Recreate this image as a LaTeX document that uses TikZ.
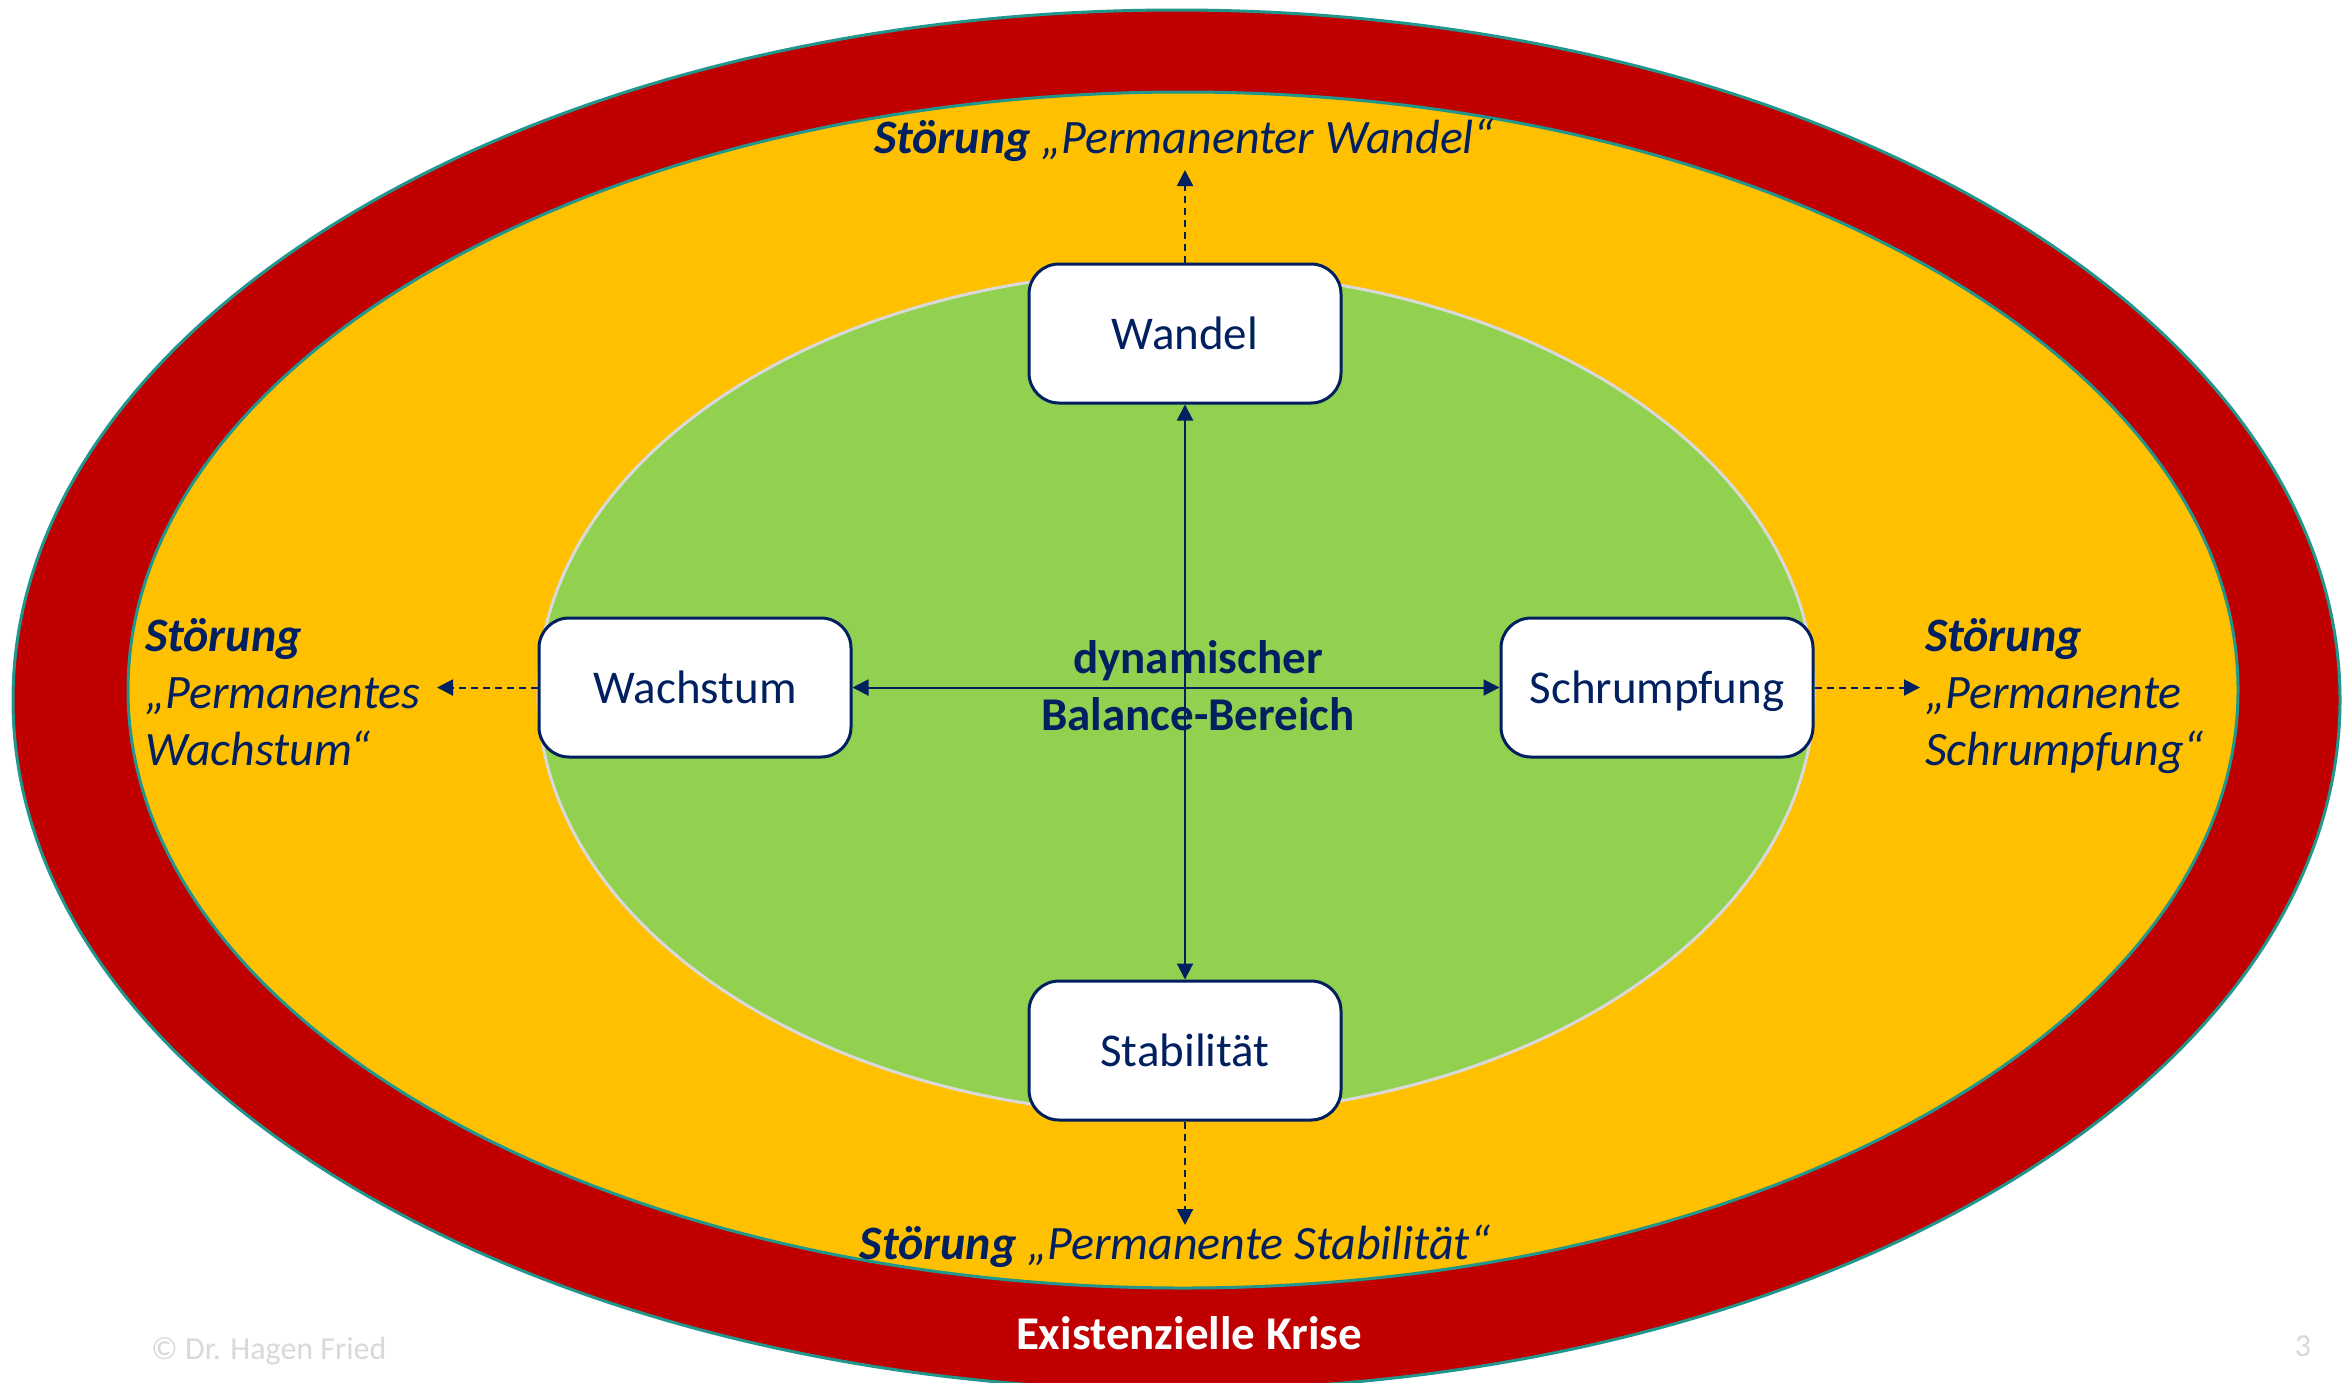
\documentclass[tikz,border=0pt]{standalone}
\usepackage{fontspec}
\setmainfont{Carlito}
\usetikzlibrary{arrows.meta}
\definecolor{navy}{HTML}{002060}
\definecolor{kred}{HTML}{C00000}
\definecolor{korange}{HTML}{FFC000}
\definecolor{kgreen}{HTML}{92D050}
\definecolor{kteal}{RGB}{32,150,140}
\definecolor{kgray}{HTML}{D9D9D9}
\begin{document}
\begin{tikzpicture}[x=1pt,y=-1pt,
  boxnode/.style={draw=navy, line width=3pt, fill=white, rounded corners=30pt,
    minimum width=312pt, minimum height=139pt, text=navy,
    text height=31pt, text depth=0pt,
    font=\fontsize{47}{57}\selectfont, inner sep=0pt},
  lbl/.style={text=navy, font=\fontsize{48}{57}\selectfont\itshape, inner sep=0pt},
  biarrow/.style={draw=navy, line width=2pt,
    {Triangle[length=16pt,width=16pt]}-{Triangle[length=16pt,width=16pt]}},
  dasharrow/.style={draw=navy, line width=2pt, dash pattern=on 7pt off 5pt,
    -{Triangle[length=16pt,width=16pt]}}]
\useasboundingbox (0,0) rectangle (2349,1382);
\clip (0,0) rectangle (2349,1382);
\fill[white] (0,0) rectangle (2349,1382);
% rings
\draw[fill=kred, draw=kteal, line width=3pt] (1176.5,700) ellipse [x radius=1163.5pt, y radius=690pt];
\draw[fill=korange, draw=kteal, line width=3pt] (1183,690) ellipse [x radius=1055pt, y radius=598pt];
\draw[fill=kgreen, draw=kgray, line width=3pt] (1176,693) ellipse [x radius=638pt, y radius=422pt];
% boxes
\node[boxnode] (wandel) at (1185,333.5) {Wandel};
\node[boxnode] (stab) at (1185,1050.5) {Stabilität};
\node[boxnode] (wachs) at (695,687.5) {Wachstum};
\node[boxnode] (schr) at (1657,687.5) {Schrumpfung};
% arrows
\draw[biarrow] (wachs.east) -- (schr.west);
\draw[biarrow] (wandel.south) -- (stab.north);
\coordinate (tw) at (1185,170);
\coordinate (ts) at (1185,1225);
\coordinate (twa) at (437,687.5);
\coordinate (tsc) at (1920,687.5);
\draw[dasharrow] (wandel.north) -- (tw);
\draw[dasharrow] (stab.south) -- (ts);
\draw[dasharrow] (wachs.west) -- (twa);
\draw[dasharrow] (schr.east) -- (tsc);
% center text
\node[text=navy, font=\fontsize{47}{57}\selectfont\bfseries, align=center, inner sep=0pt] (mid) at (1198,686) {dynamischer\\Balance-Bereich};
% disturbance labels
\node[lbl] (ltop) at (1184,140.5) {\textbf{Störung} „Permanenter Wandel“};
\node[lbl] (lbot) at (1175,1246) {\textbf{Störung} „Permanente Stabilität“};
\node[lbl, anchor=west, align=left] (lleft) at (145,692) {\textbf{Störung}\\„Permanentes\\Wachstum“};
\node[lbl, anchor=west, align=left] (lright) at (1925,696.5) {\textbf{Störung}\\„Permanente\\Schrumpfung“};
% crisis
\node[text=white, font=\fontsize{47}{57}\selectfont\bfseries, inner sep=0pt] (krise) at (1189,1333) {Existenzielle Krise};
% footer
\node[text=kgray, font=\fontsize{32}{38}\selectfont, anchor=west, inner sep=0pt] (copy) at (151,1351) {© Dr. Hagen Fried};
\node[text=kgray, font=\fontsize{32}{38}\selectfont, inner sep=0pt] (pnum) at (2303,1346) {3};
\end{tikzpicture}
\end{document}
